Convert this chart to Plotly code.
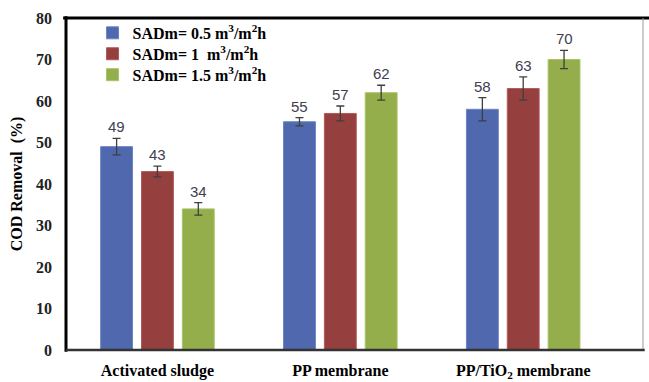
import plotly.graph_objects as go

# COD removal per treatment system and specific aeration demand
categories = ["Activated sludge", "PP membrane", "PP/TiO<sub>2</sub> membrane"]
series_names = [
    "SADm= 0.5 m<sup>3</sup>/m<sup>2</sup>h",
    "SADm= 1  m<sup>3</sup>/m<sup>2</sup>h",
    "SADm= 1.5 m<sup>3</sup>/m<sup>2</sup>h",
]
sad_05 = [49, 55, 58]
sad_10 = [43, 57, 63]
sad_15 = [34, 62, 70]
err_05 = [2.0, 1.0, 2.8]
err_10 = [1.3, 1.8, 2.8]
err_15 = [1.5, 1.8, 2.2]
y_ticks = [0, 10, 20, 30, 40, 50, 60, 70, 80]

values = [sad_05, sad_10, sad_15]
errors = [err_05, err_10, err_15]
fills = ["#4F68AE", "#953F3E", "#93AE4B"]
edges = ["#6A82C4", "#B05A58", "#A9C366"]

BARGAP = 0.33
BARGROUPGAP = 0.22
slot = (1 - BARGAP) / len(values)

serif = "Liberation Serif"
x_pos = list(range(len(categories)))
legend_ids = ["legend", "legend2", "legend3"]
legend_y = [0.955, 0.892, 0.829]

fig = go.Figure()
for name, vals, errs, fc, ec, lg in zip(series_names, values, errors, fills, edges, legend_ids):
    fig.add_trace(go.Bar(
        x=x_pos, y=vals, name=name, legend=lg,
        marker=dict(color=fc, line=dict(color=ec, width=1)),
        error_y=dict(type="data", array=errs, visible=True,
                     color="#3f3f3f", thickness=1.3, width=4),
    ))

# value labels above each error bar
annotations = []
for k, (vals, errs) in enumerate(zip(values, errors)):
    off = (k - (len(values) - 1) / 2) * slot
    for i, (v, e) in enumerate(zip(vals, errs)):
        annotations.append(dict(
            x=i + off, y=v + e, text=str(v), showarrow=False,
            yanchor="bottom", yshift=1,
            font=dict(family="Liberation Sans", size=15, color="#404050"),
        ))

legend_style = dict(
    x=0.046, xanchor="left", yanchor="middle",
    bgcolor="rgba(0,0,0,0)", itemwidth=30,
    font=dict(family=serif, size=16, color="black", weight="bold"),
)
legends = {lg: dict(legend_style, y=yy) for lg, yy in zip(legend_ids, legend_y)}

fig.update_layout(
    width=649, height=382,
    margin=dict(l=66, r=6, t=18, b=32),
    paper_bgcolor="white", plot_bgcolor="white",
    barmode="group", bargap=BARGAP, bargroupgap=BARGROUPGAP,
    showlegend=True,
    annotations=annotations,
    xaxis=dict(
        range=[-0.5, 2.655], tickvals=x_pos, ticktext=[f"<b>{c}</b>" for c in categories],
        tickfont=dict(family=serif, size=16, color="black"),
        showgrid=False, zeroline=False, showline=False, ticks="",
        ticklabelstandoff=9, automargin=False,
    ),
    yaxis=dict(
        range=[0, 80], tickvals=y_ticks,
        tickfont=dict(family=serif, size=16, color="#222", weight="bold"),
        showgrid=False, zeroline=False, showline=False, ticks="",
        ticklabelstandoff=13, automargin=False,
        title=dict(text="<b>COD Removal  (%)</b>", standoff=9,
                   font=dict(family=serif, size=16, color="black")),
    ),
    shapes=[
        # frame: heavy top and left edges, light right edge, axis at bottom
        dict(type="line", xref="paper", yref="paper", x0=-0.005, x1=1.02, y0=1, y1=1,
             line=dict(color="black", width=3)),
        dict(type="line", xref="paper", yref="paper", x0=0, x1=0, y0=-0.005, y1=1.005,
             line=dict(color="black", width=3)),
        dict(type="line", xref="paper", yref="paper", x0=1, x1=1, y0=0, y1=1,
             line=dict(color="#9a9a9a", width=1)),
        dict(type="line", xref="paper", yref="paper", x0=0, x1=1.003, y0=0, y1=0,
             line=dict(color="#333", width=2.5)),
    ],
    **legends,
)

fig.write_html("out.html")
